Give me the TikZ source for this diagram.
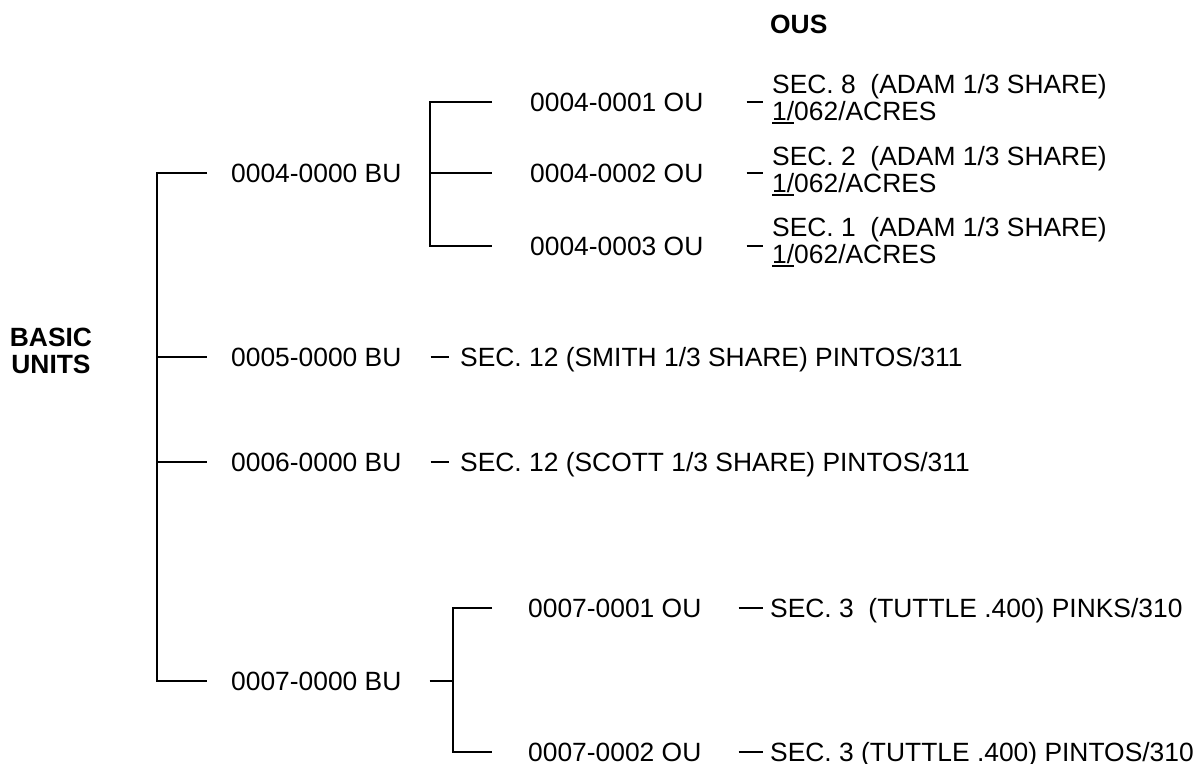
\documentclass[tikz,border=0pt]{standalone}
\usepackage{fontspec}
\setmainfont{Liberation Sans}
\newsavebox{\myulbox}
\newcommand{\myul}[1]{\sbox{\myulbox}{#1}\rlap{\rule[-3.5pt]{\wd\myulbox}{1.8pt}}\usebox{\myulbox}}
\begin{document}
\frenchspacing
\begin{tikzpicture}[x=1pt,y=-1pt,
  txt/.style={font=\fontsize{26.4}{27}\selectfont, inner sep=0pt, anchor=west, text height=18.9pt, text depth=0pt},
  multi/.style={font=\fontsize{26.4}{27}\selectfont, inner sep=0pt, anchor=base west},
  head/.style={font=\fontsize{26.4}{27}\selectfont\bfseries, inner sep=0pt},
  conn/.style={line width=2.2pt, line join=miter}]
\useasboundingbox (0,0) rectangle (1202,763);

% headings
\node[head, anchor=west, text height=18.9pt, text depth=0pt] (ous) at (770,24) {OUS};
\node[head, anchor=base] (basic) at (51,346) {\begin{tabular}[t]{@{}c@{}}BASIC\\UNITS\end{tabular}};

% basic units
\node[txt] (bu4) at (231,173) {0004-0000 BU};
\node[txt] (bu5) at (231,357) {0005-0000 BU};
\node[txt] (bu6) at (231,462) {0006-0000 BU};
\node[txt] (bu7) at (231,681) {0007-0000 BU};

% operating units
\node[txt] (ou41) at (530,102) {0004-0001 OU};
\node[txt] (ou42) at (530,173) {0004-0002 OU};
\node[txt] (ou43) at (530,246) {0004-0003 OU};
\node[txt] (ou71) at (528,608) {0007-0001 OU};
\node[txt] (ou72) at (528,752) {0007-0002 OU};

% descriptions
\node[multi] (s41) at (772,93) {\begin{tabular}[t]{@{}l@{}}SEC. 8\ \ (ADAM 1/3 SHARE)\\\myul{1/}062/ACRES\end{tabular}};
\node[multi] (s42) at (772,165) {\begin{tabular}[t]{@{}l@{}}SEC. 2\ \ (ADAM 1/3 SHARE)\\\myul{1/}062/ACRES\end{tabular}};
\node[multi] (s43) at (772,236) {\begin{tabular}[t]{@{}l@{}}SEC. 1\ \ (ADAM 1/3 SHARE)\\\myul{1/}062/ACRES\end{tabular}};
\node[txt] (s5) at (460,357) {SEC. 12 (SMITH 1/3 SHARE) PINTOS/311};
\node[txt] (s6) at (460,462) {SEC. 12 (SCOTT 1/3 SHARE) PINTOS/311};
\node[txt] (s71) at (770,608) {SEC. 3\ \ (TUTTLE .400) PINKS/310};
\node[txt] (s72) at (770,752) {SEC. 3 (TUTTLE .400) PINTOS/310};

% trunk
\coordinate (t4) at (157,173);
\coordinate (t7) at (157,681);
\draw[conn] ([xshift=-24pt]bu4.west) -- (t4) -- (t7) -- ([xshift=-24pt]bu7.west);
\draw[conn, shorten >=24pt] (t4 |- bu5.west) -- (bu5.west);
\draw[conn, shorten >=24pt] (t4 |- bu6.west) -- (bu6.west);

% bracket of 0004
\coordinate (k4) at (430,0);
\draw[conn] ([xshift=-38pt]ou41.west) -- (ou41.west -| k4) -- (ou43.west -| k4) -- ([xshift=-38pt]ou43.west);
\draw[conn, shorten >=38pt] (ou42.west -| k4) -- (ou42.west);

% bracket of 0007
\coordinate (k7) at (453,0);
\draw[conn, shorten <=28pt] (bu7.east) -- (bu7.east -| k7);
\draw[conn] ([xshift=-36pt]ou71.west) -- (ou71.west -| k7) -- (ou72.west -| k7) -- ([xshift=-36pt]ou72.west);

% dashes
\draw[conn, shorten <=43pt, shorten >=9pt] (ou41.east) -- (ou41.east -| s41.west);
\draw[conn, shorten <=43pt, shorten >=9pt] (ou42.east) -- (ou42.east -| s42.west);
\draw[conn, shorten <=43pt, shorten >=9pt] (ou43.east) -- (ou43.east -| s43.west);
\draw[conn, shorten <=29pt, shorten >=11pt] (bu5.east) -- (s5.west);
\draw[conn, shorten <=29pt, shorten >=11pt] (bu6.east) -- (s6.west);
\draw[conn, shorten <=37pt, shorten >=7pt] (ou71.east) -- (s71.west);
\draw[conn, shorten <=37pt, shorten >=7pt] (ou72.east) -- (s72.west);
\end{tikzpicture}
\end{document}
